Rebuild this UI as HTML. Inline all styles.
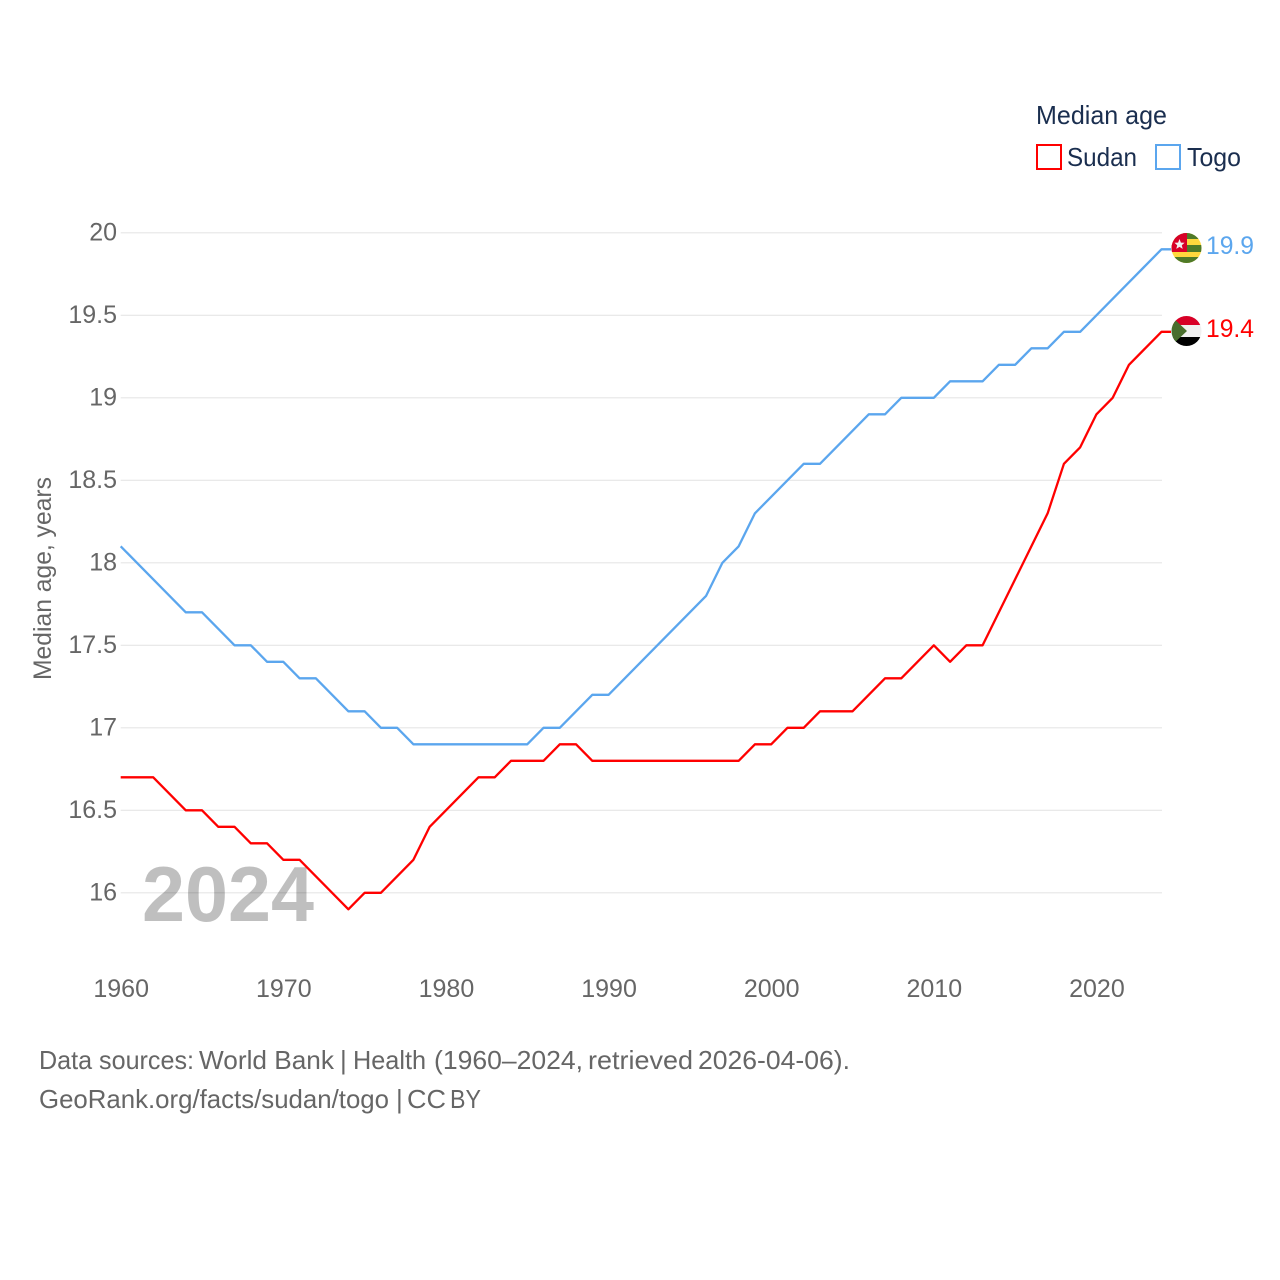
<!DOCTYPE html>
<html lang="en">
<head>
<meta charset="utf-8">
<title>Median age: Sudan and Togo</title>
<style>
html,body{margin:0;padding:0;background:#fff;width:1280px;height:1280px;overflow:hidden}
svg{display:block}
text{font-family:"Liberation Sans",sans-serif}
</style>
</head>
<body>
<svg id="chart" xmlns="http://www.w3.org/2000/svg" width="1280" height="1280" viewBox="0 0 1280 1280">
  <defs>
    <clipPath id="clip-togo"><circle cx="1186.5" cy="248" r="15"/></clipPath>
    <clipPath id="clip-sudan"><circle cx="1186.5" cy="331" r="15"/></clipPath>
  </defs>
  <rect x="0" y="0" width="1280" height="1280" fill="#fff"/>
  <g id="grid"></g>
  <text x="142" y="921" font-size="78" font-weight="700" fill="#000" fill-opacity="0.25" textLength="172" lengthAdjust="spacingAndGlyphs">2024</text>
  <g id="yticks"></g>
  <g id="xticks"></g>
  <g id="series"></g>

  <text transform="translate(51,680) rotate(-90)" font-size="25" fill="#666" textLength="203" lengthAdjust="spacingAndGlyphs">Median age, years</text>

  <g>
    <text x="1036" y="124" font-size="26" fill="#1a2e4f" textLength="131" lengthAdjust="spacingAndGlyphs">Median age</text>
    <g>
      <rect x="1037" y="145" width="24" height="24" fill="none" stroke="#ff0000" stroke-width="2"/>
      <text x="1067" y="166" font-size="26" fill="#1a2e4f" textLength="70" lengthAdjust="spacingAndGlyphs">Sudan</text>
    </g>
    <g>
      <rect x="1156" y="145" width="24" height="24" fill="none" stroke="#5ba6ee" stroke-width="2"/>
      <text x="1187" y="166" font-size="26" fill="#1a2e4f" textLength="54" lengthAdjust="spacingAndGlyphs">Togo</text>
    </g>
  </g>

  <g clip-path="url(#clip-togo)">
    <rect x="1171" y="233" width="31" height="31" fill="#ffd83d"/>
    <rect x="1171" y="233" width="31" height="6" fill="#4f7a28"/>
    <rect x="1171" y="245" width="31" height="7" fill="#4f7a28"/>
    <rect x="1171" y="257" width="31" height="7" fill="#4f7a28"/>
    <rect x="1171" y="233" width="16" height="19" fill="#d80027"/>
    <polygon points="1179.5,239 1180.9,242.6 1184.6,242.8 1181.8,245.2 1182.7,248.9 1179.5,246.9 1176.3,248.9 1177.2,245.2 1174.4,242.8 1178.1,242.6" fill="#f0f0f0"/>
  </g>
  <g clip-path="url(#clip-sudan)">
    <rect x="1171" y="316" width="31" height="9" fill="#d80027"/>
    <rect x="1171" y="325" width="31" height="12" fill="#f0f0f0"/>
    <rect x="1171" y="337" width="31" height="10" fill="#000"/>
    <polygon points="1171,316 1187,331 1171,346" fill="#496e2d"/>
  </g>

  <text x="1206" y="254" font-size="25" fill="#5ba6ee" textLength="48" lengthAdjust="spacingAndGlyphs">19.9</text>
  <text x="1206" y="337" font-size="25" fill="#ff0000" textLength="48" lengthAdjust="spacingAndGlyphs">19.4</text>

  <g font-size="26" fill="#666">
    <text x="39" y="1069" textLength="155" lengthAdjust="spacingAndGlyphs">Data sources:</text>
    <text x="199" y="1069" textLength="135" lengthAdjust="spacingAndGlyphs">World Bank</text>
    <text x="340" y="1069">|</text>
    <text x="353" y="1069" textLength="73" lengthAdjust="spacingAndGlyphs">Health</text>
    <text x="434" y="1069" textLength="149" lengthAdjust="spacingAndGlyphs">(1960–2024,</text>
    <text x="588" y="1069" textLength="105" lengthAdjust="spacingAndGlyphs">retrieved</text>
    <text x="698" y="1069" textLength="152" lengthAdjust="spacingAndGlyphs">2026-04-06).</text>
  </g>
  <g font-size="26" fill="#666">
    <text x="39" y="1108" textLength="350" lengthAdjust="spacingAndGlyphs">GeoRank.org/facts/sudan/togo</text>
    <text x="396" y="1108">|</text>
    <text x="407" y="1108" textLength="39" lengthAdjust="spacingAndGlyphs">CC</text>
    <text x="450" y="1108" textLength="31" lengthAdjust="spacingAndGlyphs">BY</text>
  </g>
</svg>
<script>
var years = [1960,1961,1962,1963,1964,1965,1966,1967,1968,1969,1970,1971,1972,1973,1974,1975,1976,1977,1978,1979,1980,1981,1982,1983,1984,1985,1986,1987,1988,1989,1990,1991,1992,1993,1994,1995,1996,1997,1998,1999,2000,2001,2002,2003,2004,2005,2006,2007,2008,2009,2010,2011,2012,2013,2014,2015,2016,2017,2018,2019,2020,2021,2022,2023,2024];
var sudanValues = [16.7,16.7,16.7,16.6,16.5,16.5,16.4,16.4,16.3,16.3,16.2,16.2,16.1,16.0,15.9,16.0,16.0,16.1,16.2,16.4,16.5,16.6,16.7,16.7,16.8,16.8,16.8,16.9,16.9,16.8,16.8,16.8,16.8,16.8,16.8,16.8,16.8,16.8,16.8,16.9,16.9,17.0,17.0,17.1,17.1,17.1,17.2,17.3,17.3,17.4,17.5,17.4,17.5,17.5,17.7,17.9,18.1,18.3,18.6,18.7,18.9,19.0,19.2,19.3,19.4];
var togoValues = [18.1,18.0,17.9,17.8,17.7,17.7,17.6,17.5,17.5,17.4,17.4,17.3,17.3,17.2,17.1,17.1,17.0,17.0,16.9,16.9,16.9,16.9,16.9,16.9,16.9,16.9,17.0,17.0,17.1,17.2,17.2,17.3,17.4,17.5,17.6,17.7,17.8,18.0,18.1,18.3,18.4,18.5,18.6,18.6,18.7,18.8,18.9,18.9,19.0,19.0,19.0,19.1,19.1,19.1,19.2,19.2,19.3,19.3,19.4,19.4,19.5,19.6,19.7,19.8,19.9];
var yTickValues = [16,16.5,17,17.5,18,18.5,19,19.5,20];
var xTickValues = [1960,1970,1980,1990,2000,2010,2020];

var SVGNS = 'http://www.w3.org/2000/svg';
function xScale(year) { return 120.7 + (year - 1960) * (1161.5 - 120.7) / 64; }
function yScale(value) { return 892.8 - (value - 16) * 165; }

var gridGroup = document.getElementById('grid');
var yGroup = document.getElementById('yticks');
var xGroup = document.getElementById('xticks');
var seriesGroup = document.getElementById('series');

yTickValues.forEach(function (tick) {
  var line = document.createElementNS(SVGNS, 'line');
  line.setAttribute('x1', 120.7);
  line.setAttribute('x2', 1162);
  line.setAttribute('y1', yScale(tick));
  line.setAttribute('y2', yScale(tick));
  line.setAttribute('stroke', '#e6e6e6');
  line.setAttribute('stroke-width', '1.2');
  
  
  gridGroup.appendChild(line);

  var label = document.createElementNS(SVGNS, 'text');
  label.setAttribute('x', 117);
  label.setAttribute('y', yScale(tick) + 7.7);
  label.setAttribute('text-anchor', 'end');
  label.setAttribute('font-size', '25');
  label.setAttribute('fill', '#666');
  
  
  label.textContent = String(tick);
  yGroup.appendChild(label);
});

xTickValues.forEach(function (tick) {
  var label = document.createElementNS(SVGNS, 'text');
  label.setAttribute('x', xScale(tick) + 0.5);
  label.setAttribute('y', 997);
  label.setAttribute('text-anchor', 'middle');
  label.setAttribute('font-size', '25');
  label.setAttribute('fill', '#666');
  
  
  label.textContent = String(tick);
  xGroup.appendChild(label);
});

function drawSeries(values, color, seriesName) {
  var pts = values.map(function (v, i) {
    return xScale(years[i]).toFixed(2) + ',' + yScale(v).toFixed(2);
  });
  var lastY = yScale(values[values.length - 1]).toFixed(2);
  pts.push('1171,' + lastY);
  var line = document.createElementNS(SVGNS, 'polyline');
  line.setAttribute('points', pts.join(' '));
  line.setAttribute('fill', 'none');
  line.setAttribute('stroke', color);
  line.setAttribute('stroke-width', '2.3');
  line.setAttribute('stroke-linejoin', 'round');
  
  
  seriesGroup.appendChild(line);
}
drawSeries(sudanValues, '#ff0000', 'sudan-line');
drawSeries(togoValues, '#5ba6ee', 'togo-line');
</script>
</body>
</html>
